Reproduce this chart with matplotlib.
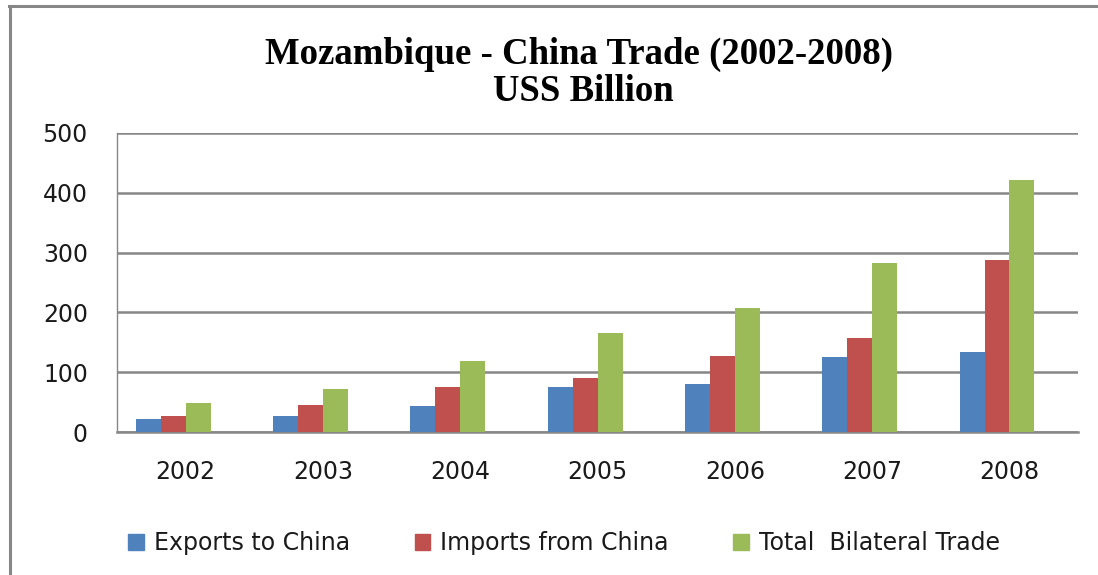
import matplotlib.pyplot as plt
from matplotlib.lines import Line2D
from matplotlib.patches import Patch
import numpy as np

years = ['2002', '2003', '2004', '2005', '2006', '2007', '2008']
exports = [22, 27, 43, 75, 80, 125, 133]
imports = [27, 45, 75, 90, 127, 158, 287]
total = [48, 72, 118, 165, 208, 282, 422]

series = [
    ('Exports to China', exports, '#4F81BD'),
    ('Imports from China', imports, '#C0504D'),
    ('Total  Bilateral Trade', total, '#9BBB59'),
]

grey = '#878787'

fig = plt.figure(figsize=(10.98, 5.75), dpi=100)
ax = fig.add_axes([117 / 1098, 143 / 575, 961 / 1098, 299 / 575])

x = np.arange(len(years))
w = 0.182
shift = -0.09
for i, (name, vals, col) in enumerate(series):
    ax.bar(x + shift + (i - 1) * w, vals, width=w, color=col, label=name, zorder=3)

ax.set_xlim(-0.5, len(years) - 0.5)
ax.set_ylim(0, 500)
ax.set_yticks(range(0, 501, 100))
ax.set_xticks(x)
ax.set_xticklabels(years)
ax.yaxis.grid(True, color=grey, linewidth=1.8, zorder=0)
ax.tick_params(length=0, labelsize=17, labelcolor='#1a1a1a')
ax.tick_params(axis='y', pad=21)
ax.tick_params(axis='x', pad=20)
for s in ['top', 'right']:
    ax.spines[s].set_visible(False)
ax.spines['left'].set_color(grey)
ax.spines['left'].set_linewidth(1.0)
ax.spines['bottom'].set_color(grey)
ax.spines['bottom'].set_linewidth(1.8)

fig.text(0.527, 1 - 54 / 575, 'Mozambique - China Trade (2002-2008)', ha='center', va='center',
         fontsize=26.5, fontweight='bold', family='Liberation Serif')
fig.text(0.531, 1 - 91 / 575, 'USS Billion', ha='center', va='center',
         fontsize=26.5, fontweight='bold', family='Liberation Serif')

handles = [Patch(color=c) for _, _, c in series]
labels = [n for n, _, _ in series]
fig.legend(handles, labels, loc='center', bbox_to_anchor=(564 / 1098, 1 - 543 / 575), ncol=3,
           frameon=False, fontsize=17, handlelength=0.65, handleheight=0.65,
           handletextpad=0.42, columnspacing=2.75, labelcolor='#1a1a1a')

# outer frame (top and left edges visible)
fig.add_artist(Line2D([9 / 1098, 1], [1 - 6 / 575] * 2, color=grey, linewidth=2.2))
fig.add_artist(Line2D([10 / 1098] * 2, [0, 1 - 6 / 575], color=grey, linewidth=2.2))

fig.savefig('out.png', dpi=100)
